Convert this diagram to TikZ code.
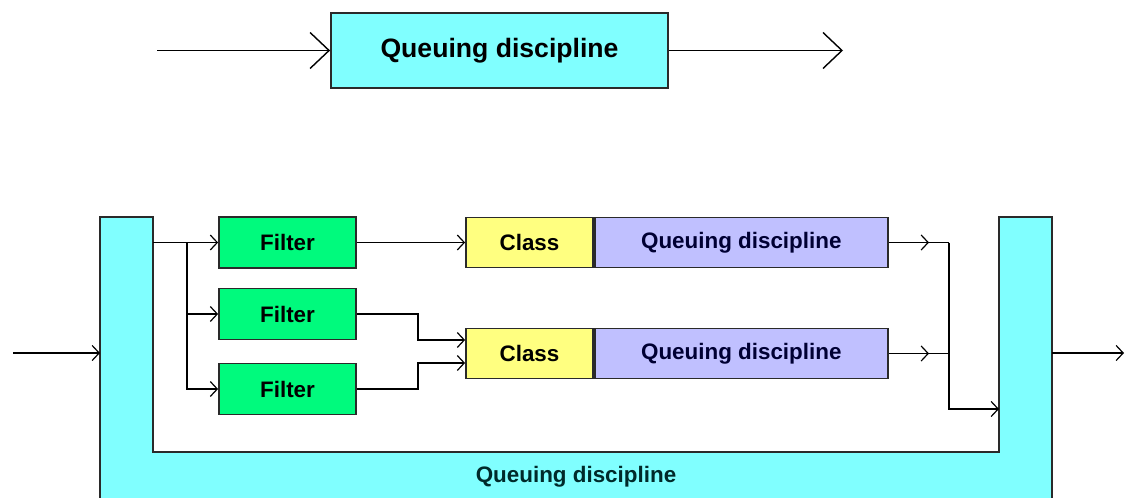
\documentclass[tikz,border=0pt]{standalone}
\usepackage{fontspec}
\setmainfont{Liberation Sans}
\usetikzlibrary{arrows.meta}
\definecolor{qcyan}{HTML}{80FFFF}
\definecolor{fgreen}{HTML}{00FA7D}
\definecolor{cyellow}{HTML}{FFFF80}
\definecolor{qlav}{HTML}{C0C0FF}
\definecolor{edgegray}{HTML}{2A2A2A}
\definecolor{qnavy}{HTML}{000033}
\definecolor{qteal}{HTML}{002A2A}
\begin{document}
\begin{tikzpicture}[x=0.5pt, y=-0.5pt, line width=0.75pt,
    font=\fontsize{11.2}{13}\selectfont\bfseries,
    box/.style={draw=edgegray, line width=0.9pt, inner sep=0pt},
    filterbox/.style={box, fill=fgreen, minimum width=68.5pt, minimum height=25.5pt},
    classbox/.style={box, fill=cyellow, minimum width=63.5pt, minimum height=25pt},
    qdbox/.style={box, fill=qlav, text=qnavy, minimum width=146.5pt, minimum height=25pt, anchor=west},
    arr/.style={-{Straight Barb[length=3.5pt, width=7.5pt, line width=0.6pt]}},
    bigarr/.style={-{Straight Barb[length=9.5pt, width=18pt, line width=0.7pt]}}]
    \useasboundingbox (0,0) rectangle (1126,498);
    \path
    (157,50.5) coordinate (tin)
    (843,50.5) coordinate (tout)
    (13,353) coordinate (lin)
    (100,353) coordinate (uin)
    (153,242.5) coordinate (usplit)
    (187,242.5) coordinate (br)
    (418,340) coordinate (j2)
    (418,363) coordinate (j3)
    (929,242.5) coordinate (a1)
    (929,353.5) coordinate (a2)
    (949,242.5) coordinate (m1)
    (949,353.5) coordinate (m2)
    (999,409) coordinate (umerge)
    (1052,353) coordinate (uout)
    (1124,353) coordinate (lout)
    ;
    % single discipline
    \node[box, fill=qcyan, minimum width=168.5pt, minimum height=37.5pt,
        font=\fontsize{13.3}{15}\selectfont\bfseries] (top) at (499.5,50.5) {Queuing discipline};
    \draw[bigarr] (tin) -- (top);
    \draw[bigarr] (top) -- (tout);
    % outer discipline
    \draw[draw=edgegray, fill=qcyan, line width=0.9pt] (100,217) -- (153,217) -- (153,452)
        -- (999,452) -- (999,217) -- (1052,217) -- (1052,510) -- (100,510) -- cycle;
    \node[text=qteal] (ulabel) at (576,477) {Queuing discipline};
    \node[filterbox] (f1) at (287.5,242.5) {Filter};
    \node[filterbox] (f2) at (287.5,314) {Filter};
    \node[filterbox] (f3) at (287.5,389) {Filter};
    \node[classbox] (c1) at (529.5,242.5) {Class};
    \node[qdbox] (q1) at (c1.east) {Queuing discipline};
    \node[classbox] (c2) at (529.5,353.5) {Class};
    \node[qdbox] (q2) at (c2.east) {Queuing discipline};
    \draw[arr] (lin) -- (uin);
    \draw[arr] (usplit) -- (f1);
    \draw[arr] (br) |- (f2);
    \draw[arr] (br) |- (f3);
    \draw[arr] (f1) -- (c1);
    \draw[arr] (f2) -| (j2) -- (j2 -| c2.west);
    \draw[arr] (f3) -| (j3) -- (j3 -| c2.west);
    \draw[arr] (q1) -- (a1);
    \draw (a1) -- (m1);
    \draw[arr] (q2) -- (a2);
    \draw (a2) -- (m2);
    \draw[arr] (m1) |- (umerge);
    \draw[arr] (uout) -- (lout);
\end{tikzpicture}
\end{document}
